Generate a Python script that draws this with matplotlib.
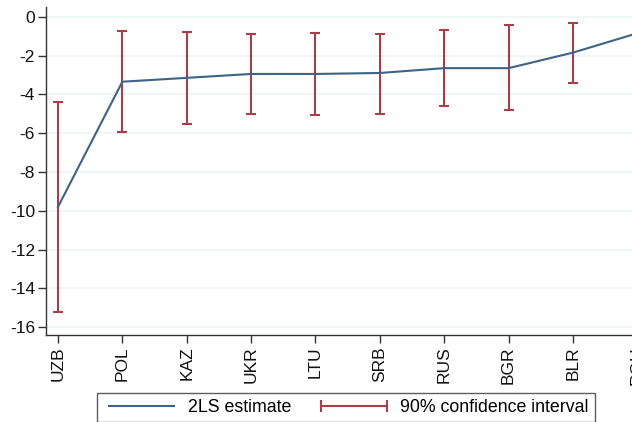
import matplotlib.pyplot as plt
from matplotlib.lines import Line2D

plt.rcParams['font.family'] = ['Liberation Sans', 'DejaVu Sans']

# 2LS estimates by country with 90% confidence bounds
countries = ["UZB", "POL", "KAZ", "UKR", "LTU", "SRB", "RUS", "BGR", "BLR", "ROU"]
estimate = [-9.8, -3.35, -3.15, -2.95, -2.95, -2.9, -2.65, -2.65, -1.85, -0.85]
ci_low = [-15.2, -5.95, -5.55, -5.0, -5.05, -5.0, -4.6, -4.8, -3.4, -2.9]
ci_high = [-4.4, -0.75, -0.8, -0.9, -0.85, -0.9, -0.7, -0.45, -0.3, 1.2]
yticks = list(range(0, -17, -2))

line_col = "#3e6384"
ci_col = "#a83f48"

fig = plt.figure(figsize=(6.32, 4.22), dpi=100)
# axes run past the right edge of the figure
ax = fig.add_axes([46 / 632, 1 - 335 / 422, 603.6 / 632, 328 / 422])

x = list(range(len(countries)))
ax.plot(x, estimate, color=line_col, lw=1.5, zorder=3)
ax.errorbar(x, estimate,
            yerr=[[e - lo for e, lo in zip(estimate, ci_low)],
                  [hi - e for e, hi in zip(estimate, ci_high)]],
            fmt="none", ecolor=ci_col, elinewidth=1.5, capsize=3.4,
            capthick=1.5, zorder=2)

ax.set_xlim(-0.186, 9.19)
ax.set_ylim(-16.4, 0.5)
ax.set_yticks(yticks)
ax.set_yticklabels([str(v) for v in yticks])
ax.set_xticks(x)
ax.set_xticklabels(countries, rotation=90)
ax.yaxis.grid(True, color="#eef3f3", lw=1.2)
ax.set_axisbelow(True)

for s in ["top", "right"]:
    ax.spines[s].set_visible(False)
for s in ["left", "bottom"]:
    ax.spines[s].set_color("#333333")
    ax.spines[s].set_linewidth(1.0)
ax.tick_params(axis="both", length=6, width=1, color="#333333",
               labelsize=12.5, pad=2, labelcolor="#111111")

handles = [
    Line2D([], [], color=line_col, lw=1.5),
    Line2D([], [], color=ci_col, lw=1.5, marker="|", markersize=8,
           markeredgewidth=1.5),
]
fig.legend(handles, ["2LS estimate", "90% confidence interval"],
           loc="upper left", bbox_to_anchor=(97 / 632, 1 - 393 / 422),
           borderaxespad=0, ncol=2, numpoints=2, fontsize=12.8,
           frameon=True, fancybox=False, edgecolor="#333333",
           handlelength=4.3, columnspacing=1.4, handletextpad=0.45,
           borderpad=0.35)

fig.savefig("out.png", dpi=100, facecolor="white")
